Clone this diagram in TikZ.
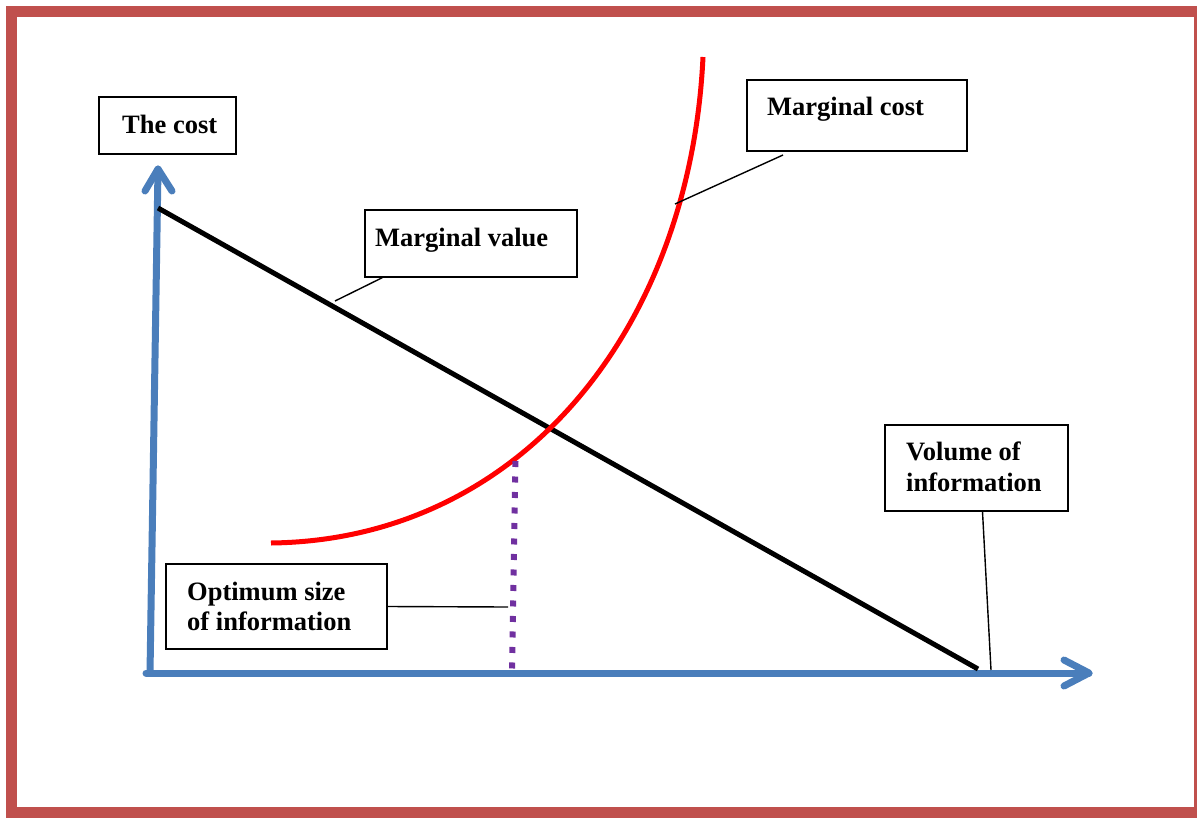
\documentclass[tikz,border=0pt]{standalone}
\usepackage{fontspec}
\setmainfont{Liberation Serif}
\usetikzlibrary{calc}
\definecolor{axisblue}{HTML}{4A7EBB}
\definecolor{frame}{HTML}{C0504D}
\definecolor{optpurple}{HTML}{7030A0}
\tikzset{
  axis/.style={draw=axisblue, line width=7pt, line cap=round, line join=round},
  box/.style={draw=black, line width=1.3pt, rectangle, inner sep=0pt},
  lbl/.style={font=\fontsize{26.5}{31}\selectfont\bfseries, inner sep=0pt, align=left},
  leader/.style={draw=black, line width=1.4pt},
}
\begin{document}
\begin{tikzpicture}[x=1pt, y=-1pt]
\useasboundingbox (0,0) rectangle (1197,817);
% frame
\draw[frame, line width=11pt] (11.5,11.5) rectangle (1199,812.5);

% axes
\coordinate (O) at (150,673);
\coordinate (ytip) at (158,169);
\coordinate (xtip) at (1089,673);
\draw[axis] (O) -- (ytip);
\draw[axis] ($(ytip)+(-13,22)$) -- (ytip) -- ($(ytip)+(14,22)$);
\draw[axis] (146,673) -- (xtip);
\draw[axis] ($(xtip)+(-25,-13)$) -- (xtip) -- ($(xtip)+(-25,13)$);

% marginal value line
\coordinate (mv1) at (158,208);
\coordinate (mv2) at (978,669);
\draw[black, line width=5pt] (mv1) -- (mv2);

% marginal cost curve
\coordinate (mc1) at (271,543);
\coordinate (mc2) at (703,57);
\draw[red, line width=5pt] (mc1) .. controls (520,540) and (690,330) .. (mc2);

% optimum dotted line
\coordinate (opt1) at (515.5,461);
\coordinate (opt2) at (512,672);
\draw[optpurple, line width=6pt, dash pattern=on 6pt off 9.5pt] (opt1) -- (opt2);

% boxes
\node[box, minimum width=137pt, minimum height=57pt] (cost) at (167.5,125.5) {};
\node[lbl, anchor=base west] (costt) at (122,133) {The cost};

\node[box, minimum width=220pt, minimum height=71pt] (mcbox) at (857,115.5) {};
\node[lbl, anchor=base west] (mct) at (767,115) {Marginal cost};

\node[box, minimum width=212pt, minimum height=67pt] (mvbox) at (471,243.5) {};
\node[lbl, anchor=base west] (mvt) at (375,246) {Marginal value};

\node[box, minimum width=221pt, minimum height=85pt] (optbox) at (276.5,606.5) {};
\node[lbl, anchor=base west] (optt1) at (187,600) {Optimum size};
\node[lbl, anchor=base west] (optt2) at (187,630) {of information};

\node[box, minimum width=183pt, minimum height=86pt] (volbox) at (976.5,468) {};
\node[lbl, anchor=base west] (volt1) at (906,460) {Volume of};
\node[lbl, anchor=base west] (volt2) at (906,491) {information};

% leaders
\coordinate (mcl) at (675,204);
\coordinate (mvl) at (335,301);
\coordinate (optl) at (508,607);
\coordinate (voll) at (991,670);
\draw[leader] (783,155) -- (mcl);
\draw[leader] (mvbox.south west) ++(18,0) -- (mvl);
\draw[leader] (optbox.east) -- (optl);
\draw[leader] (volbox.south) ++(6,0) -- (voll);
\end{tikzpicture}
\end{document}
